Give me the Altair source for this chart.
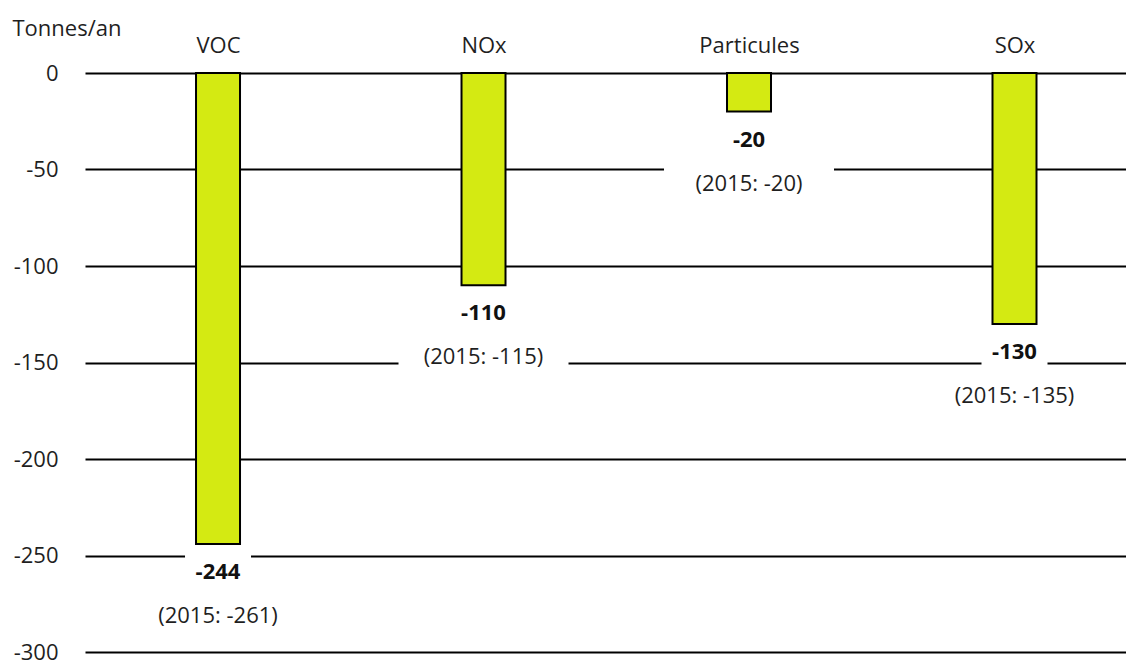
import altair as alt
import pandas as pd

categories = ["VOC", "NOx", "Particules", "SOx"]
values_2016 = [-244, -110, -20, -130]
values_2015 = [-261, -115, -20, -135]

df = pd.DataFrame({
    "cat": categories,
    "value": values_2016,
    "prev": values_2015,
})
df["lbl"] = [str(v) for v in values_2016]
df["lbl2"] = ["(2015: %d)" % p for p in values_2015]

FONT = "Open Sans"
FS = 22
TXT = "#1f1f1f"

x = alt.X("cat:N", sort=categories,
          scale=alt.Scale(type="point", padding=0.4605, align=0.544),
          axis=alt.Axis(orient="top", title=None, ticks=False, domain=False,
                        labelAngle=0, labelPadding=21, labelBaseline="alphabetic",
                        labelFont=FONT, labelFontSize=FS, labelColor=TXT, grid=False))
y = alt.Y("value:Q",
          scale=alt.Scale(domain=[-300, 0], nice=False, zero=True),
          axis=alt.Axis(values=[0, -50, -100, -150, -200, -250, -300],
                        labelExpr="'' + datum.value",
                        title="Tonnes/an", titleAngle=0, titleX=-73, titleY=-45,
                        titleAlign="left", titleBaseline="middle",
                        titleFont=FONT, titleFontSize=FS, titleFontWeight="normal", titleColor=TXT,
                        labelFont=FONT, labelFontSize=FS, labelColor=TXT, labelPadding=27,
                        ticks=False, domain=False, grid=True, gridColor="#000000",
                        gridWidth=2, gridOpacity=1, zindex=0))

base = alt.Chart(df)

bars = base.mark_bar(size=44, color="#d4ea12", stroke="#000000", strokeWidth=2).encode(x=x, y=y)

mask1 = base.mark_tick(orient="horizontal", size=66, thickness=40, color="#ffffff",
                       opacity=1, yOffset=28).encode(x=x, y=y)
mask2 = base.mark_tick(orient="horizontal", size=170, thickness=38, color="#ffffff",
                       opacity=1, yOffset=72).encode(x=x, y=y)

t1 = base.mark_text(dy=28, font=FONT, fontSize=FS, fontWeight="bold", color="#111111",
                    baseline="middle", align="center").encode(x=x, y=y, text="lbl:N")
t2 = base.mark_text(dy=72, font=FONT, fontSize=FS, color=TXT,
                    baseline="middle", align="center").encode(x=x, y=y, text="lbl2:N")

chart = alt.layer(bars, mask1, mask2, t1, t2).properties(
    width=1041, height=579,
    autosize=alt.AutoSizeParams(type="none"),
    padding={"left": 77, "top": 65, "right": 0, "bottom": 8},
).configure_view(strokeWidth=0)

chart.save("out.html", embed_options={"renderer": "svg", "actions": False})
